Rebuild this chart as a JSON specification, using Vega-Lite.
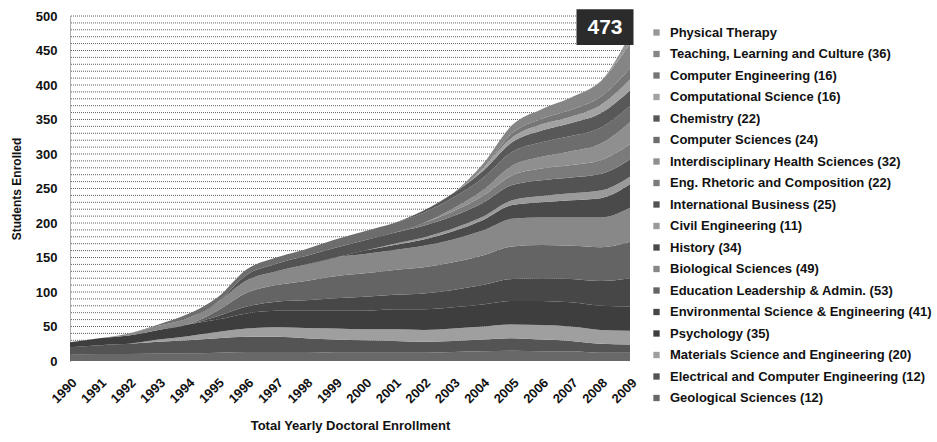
{
  "$schema": "https://vega.github.io/schema/vega-lite/v6.json",
  "width": 560,
  "height": 345,
  "padding": {"left": 10, "top": 9, "right": 4, "bottom": 2},
  "background": "#ffffff",
  "config": {
    "view": {"stroke": null},
    "font": "Liberation Sans",
    "axis": {"labelFont": "Liberation Sans", "titleFont": "Liberation Sans", "labelFontWeight": "bold", "titleFontWeight": "bold", "labelColor": "#111", "titleColor": "#111"}
  },
  "resolve": {"axis": {"x": "independent", "y": "independent"}},
  "datasets": {
    "programs": [
      {"p": "PT", "rank": 18, "program": "Physical Therapy"},
      {"p": "TLC", "rank": 17, "program": "Teaching, Learning and Culture (36)"},
      {"p": "CE2", "rank": 16, "program": "Computer Engineering (16)"},
      {"p": "CMP", "rank": 15, "program": "Computational Science (16)"},
      {"p": "CHEM", "rank": 14, "program": "Chemistry (22)"},
      {"p": "CS", "rank": 13, "program": "Computer Sciences (24)"},
      {"p": "IHS", "rank": 12, "program": "Interdisciplinary Health Sciences (32)"},
      {"p": "ERC", "rank": 11, "program": "Eng. Rhetoric and Composition (22)"},
      {"p": "IB", "rank": 10, "program": "International Business (25)"},
      {"p": "CE", "rank": 9, "program": "Civil Engineering (11)"},
      {"p": "HIS", "rank": 8, "program": "History (34)"},
      {"p": "BIO", "rank": 7, "program": "Biological Sciences (49)"},
      {"p": "EDL", "rank": 6, "program": "Education Leadership & Admin. (53)"},
      {"p": "ENV", "rank": 5, "program": "Environmental Science & Engineering (41)"},
      {"p": "PSY", "rank": 4, "program": "Psychology (35)"},
      {"p": "MSE", "rank": 3, "program": "Materials Science and Engineering (20)"},
      {"p": "ECE", "rank": 2, "program": "Electrical and Computer Engineering (12)"},
      {"p": "GS", "rank": 1, "program": "Geological Sciences (12)"}
    ],
    "enrollment": [
      {"yr":1990,"p":"GS","n":9},{"yr":1991,"p":"GS","n":10},{"yr":1992,"p":"GS","n":10},{"yr":1993,"p":"GS","n":11},{"yr":1994,"p":"GS","n":11},{"yr":1995,"p":"GS","n":12},{"yr":1996,"p":"GS","n":13},{"yr":1997,"p":"GS","n":13},{"yr":1998,"p":"GS","n":13},{"yr":1999,"p":"GS","n":12},{"yr":2000,"p":"GS","n":12},{"yr":2001,"p":"GS","n":12},{"yr":2002,"p":"GS","n":12},{"yr":2003,"p":"GS","n":13},{"yr":2004,"p":"GS","n":14},{"yr":2005,"p":"GS","n":15},{"yr":2006,"p":"GS","n":14},{"yr":2007,"p":"GS","n":14},{"yr":2008,"p":"GS","n":12},{"yr":2009,"p":"GS","n":12},
      {"yr":1990,"p":"ECE","n":11},{"yr":1991,"p":"ECE","n":13},{"yr":1992,"p":"ECE","n":15},{"yr":1993,"p":"ECE","n":17},{"yr":1994,"p":"ECE","n":19},{"yr":1995,"p":"ECE","n":21},{"yr":1996,"p":"ECE","n":22},{"yr":1997,"p":"ECE","n":22},{"yr":1998,"p":"ECE","n":20},{"yr":1999,"p":"ECE","n":19},{"yr":2000,"p":"ECE","n":18},{"yr":2001,"p":"ECE","n":17},{"yr":2002,"p":"ECE","n":16},{"yr":2003,"p":"ECE","n":16},{"yr":2004,"p":"ECE","n":17},{"yr":2005,"p":"ECE","n":18},{"yr":2006,"p":"ECE","n":17},{"yr":2007,"p":"ECE","n":15},{"yr":2008,"p":"ECE","n":13},{"yr":2009,"p":"ECE","n":12},
      {"yr":1990,"p":"MSE","n":0},{"yr":1991,"p":"MSE","n":0},{"yr":1992,"p":"MSE","n":0},{"yr":1993,"p":"MSE","n":3},{"yr":1994,"p":"MSE","n":6},{"yr":1995,"p":"MSE","n":9},{"yr":1996,"p":"MSE","n":12},{"yr":1997,"p":"MSE","n":14},{"yr":1998,"p":"MSE","n":15},{"yr":1999,"p":"MSE","n":16},{"yr":2000,"p":"MSE","n":16},{"yr":2001,"p":"MSE","n":17},{"yr":2002,"p":"MSE","n":17},{"yr":2003,"p":"MSE","n":18},{"yr":2004,"p":"MSE","n":19},{"yr":2005,"p":"MSE","n":20},{"yr":2006,"p":"MSE","n":21},{"yr":2007,"p":"MSE","n":21},{"yr":2008,"p":"MSE","n":20},{"yr":2009,"p":"MSE","n":20},
      {"yr":1990,"p":"PSY","n":7},{"yr":1991,"p":"PSY","n":10},{"yr":1992,"p":"PSY","n":12},{"yr":1993,"p":"PSY","n":14},{"yr":1994,"p":"PSY","n":17},{"yr":1995,"p":"PSY","n":18},{"yr":1996,"p":"PSY","n":22},{"yr":1997,"p":"PSY","n":24},{"yr":1998,"p":"PSY","n":25},{"yr":1999,"p":"PSY","n":26},{"yr":2000,"p":"PSY","n":27},{"yr":2001,"p":"PSY","n":29},{"yr":2002,"p":"PSY","n":30},{"yr":2003,"p":"PSY","n":31},{"yr":2004,"p":"PSY","n":32},{"yr":2005,"p":"PSY","n":34},{"yr":2006,"p":"PSY","n":35},{"yr":2007,"p":"PSY","n":35},{"yr":2008,"p":"PSY","n":35},{"yr":2009,"p":"PSY","n":35},
      {"yr":1990,"p":"ENV","n":0},{"yr":1991,"p":"ENV","n":0},{"yr":1992,"p":"ENV","n":0},{"yr":1993,"p":"ENV","n":0},{"yr":1994,"p":"ENV","n":0},{"yr":1995,"p":"ENV","n":5},{"yr":1996,"p":"ENV","n":10},{"yr":1997,"p":"ENV","n":13},{"yr":1998,"p":"ENV","n":15},{"yr":1999,"p":"ENV","n":18},{"yr":2000,"p":"ENV","n":20},{"yr":2001,"p":"ENV","n":21},{"yr":2002,"p":"ENV","n":23},{"yr":2003,"p":"ENV","n":25},{"yr":2004,"p":"ENV","n":28},{"yr":2005,"p":"ENV","n":32},{"yr":2006,"p":"ENV","n":33},{"yr":2007,"p":"ENV","n":34},{"yr":2008,"p":"ENV","n":36},{"yr":2009,"p":"ENV","n":41},
      {"yr":1990,"p":"EDL","n":0},{"yr":1991,"p":"EDL","n":0},{"yr":1992,"p":"EDL","n":0},{"yr":1993,"p":"EDL","n":0},{"yr":1994,"p":"EDL","n":0},{"yr":1995,"p":"EDL","n":8},{"yr":1996,"p":"EDL","n":20},{"yr":1997,"p":"EDL","n":24},{"yr":1998,"p":"EDL","n":28},{"yr":1999,"p":"EDL","n":32},{"yr":2000,"p":"EDL","n":34},{"yr":2001,"p":"EDL","n":36},{"yr":2002,"p":"EDL","n":38},{"yr":2003,"p":"EDL","n":40},{"yr":2004,"p":"EDL","n":43},{"yr":2005,"p":"EDL","n":47},{"yr":2006,"p":"EDL","n":48},{"yr":2007,"p":"EDL","n":48},{"yr":2008,"p":"EDL","n":49},{"yr":2009,"p":"EDL","n":53},
      {"yr":1990,"p":"BIO","n":0},{"yr":1991,"p":"BIO","n":0},{"yr":1992,"p":"BIO","n":3},{"yr":1993,"p":"BIO","n":6},{"yr":1994,"p":"BIO","n":9},{"yr":1995,"p":"BIO","n":12},{"yr":1996,"p":"BIO","n":18},{"yr":1997,"p":"BIO","n":20},{"yr":1998,"p":"BIO","n":24},{"yr":1999,"p":"BIO","n":27},{"yr":2000,"p":"BIO","n":28},{"yr":2001,"p":"BIO","n":29},{"yr":2002,"p":"BIO","n":31},{"yr":2003,"p":"BIO","n":33},{"yr":2004,"p":"BIO","n":36},{"yr":2005,"p":"BIO","n":40},{"yr":2006,"p":"BIO","n":40},{"yr":2007,"p":"BIO","n":41},{"yr":2008,"p":"BIO","n":43},{"yr":2009,"p":"BIO","n":49},
      {"yr":1990,"p":"HIS","n":0},{"yr":1991,"p":"HIS","n":0},{"yr":1992,"p":"HIS","n":0},{"yr":1993,"p":"HIS","n":0},{"yr":1994,"p":"HIS","n":0},{"yr":1995,"p":"HIS","n":0},{"yr":1996,"p":"HIS","n":0},{"yr":1997,"p":"HIS","n":0},{"yr":1998,"p":"HIS","n":0},{"yr":1999,"p":"HIS","n":0},{"yr":2000,"p":"HIS","n":5},{"yr":2001,"p":"HIS","n":7},{"yr":2002,"p":"HIS","n":9},{"yr":2003,"p":"HIS","n":12},{"yr":2004,"p":"HIS","n":15},{"yr":2005,"p":"HIS","n":20},{"yr":2006,"p":"HIS","n":22},{"yr":2007,"p":"HIS","n":25},{"yr":2008,"p":"HIS","n":28},{"yr":2009,"p":"HIS","n":34},
      {"yr":1990,"p":"CE","n":0},{"yr":1991,"p":"CE","n":0},{"yr":1992,"p":"CE","n":0},{"yr":1993,"p":"CE","n":0},{"yr":1994,"p":"CE","n":0},{"yr":1995,"p":"CE","n":0},{"yr":1996,"p":"CE","n":0},{"yr":1997,"p":"CE","n":0},{"yr":1998,"p":"CE","n":0},{"yr":1999,"p":"CE","n":0},{"yr":2000,"p":"CE","n":0},{"yr":2001,"p":"CE","n":2},{"yr":2002,"p":"CE","n":3},{"yr":2003,"p":"CE","n":4},{"yr":2004,"p":"CE","n":5},{"yr":2005,"p":"CE","n":7},{"yr":2006,"p":"CE","n":9},{"yr":2007,"p":"CE","n":10},{"yr":2008,"p":"CE","n":11},{"yr":2009,"p":"CE","n":11},
      {"yr":1990,"p":"IB","n":0},{"yr":1991,"p":"IB","n":0},{"yr":1992,"p":"IB","n":0},{"yr":1993,"p":"IB","n":0},{"yr":1994,"p":"IB","n":0},{"yr":1995,"p":"IB","n":0},{"yr":1996,"p":"IB","n":8},{"yr":1997,"p":"IB","n":11},{"yr":1998,"p":"IB","n":12},{"yr":1999,"p":"IB","n":14},{"yr":2000,"p":"IB","n":15},{"yr":2001,"p":"IB","n":16},{"yr":2002,"p":"IB","n":17},{"yr":2003,"p":"IB","n":18},{"yr":2004,"p":"IB","n":20},{"yr":2005,"p":"IB","n":22},{"yr":2006,"p":"IB","n":23},{"yr":2007,"p":"IB","n":23},{"yr":2008,"p":"IB","n":24},{"yr":2009,"p":"IB","n":25},
      {"yr":1990,"p":"ERC","n":0},{"yr":1991,"p":"ERC","n":0},{"yr":1992,"p":"ERC","n":0},{"yr":1993,"p":"ERC","n":0},{"yr":1994,"p":"ERC","n":0},{"yr":1995,"p":"ERC","n":0},{"yr":1996,"p":"ERC","n":0},{"yr":1997,"p":"ERC","n":0},{"yr":1998,"p":"ERC","n":0},{"yr":1999,"p":"ERC","n":0},{"yr":2000,"p":"ERC","n":0},{"yr":2001,"p":"ERC","n":0},{"yr":2002,"p":"ERC","n":4},{"yr":2003,"p":"ERC","n":7},{"yr":2004,"p":"ERC","n":10},{"yr":2005,"p":"ERC","n":14},{"yr":2006,"p":"ERC","n":17},{"yr":2007,"p":"ERC","n":18},{"yr":2008,"p":"ERC","n":20},{"yr":2009,"p":"ERC","n":22},
      {"yr":1990,"p":"IHS","n":0},{"yr":1991,"p":"IHS","n":0},{"yr":1992,"p":"IHS","n":0},{"yr":1993,"p":"IHS","n":0},{"yr":1994,"p":"IHS","n":0},{"yr":1995,"p":"IHS","n":0},{"yr":1996,"p":"IHS","n":0},{"yr":1997,"p":"IHS","n":0},{"yr":1998,"p":"IHS","n":0},{"yr":1999,"p":"IHS","n":0},{"yr":2000,"p":"IHS","n":0},{"yr":2001,"p":"IHS","n":0},{"yr":2002,"p":"IHS","n":0},{"yr":2003,"p":"IHS","n":4},{"yr":2004,"p":"IHS","n":8},{"yr":2005,"p":"IHS","n":14},{"yr":2006,"p":"IHS","n":17},{"yr":2007,"p":"IHS","n":20},{"yr":2008,"p":"IHS","n":24},{"yr":2009,"p":"IHS","n":32},
      {"yr":1990,"p":"CS","n":0},{"yr":1991,"p":"CS","n":0},{"yr":1992,"p":"CS","n":0},{"yr":1993,"p":"CS","n":2},{"yr":1994,"p":"CS","n":6},{"yr":1995,"p":"CS","n":7},{"yr":1996,"p":"CS","n":8},{"yr":1997,"p":"CS","n":9},{"yr":1998,"p":"CS","n":10},{"yr":1999,"p":"CS","n":12},{"yr":2000,"p":"CS","n":13},{"yr":2001,"p":"CS","n":14},{"yr":2002,"p":"CS","n":15},{"yr":2003,"p":"CS","n":16},{"yr":2004,"p":"CS","n":18},{"yr":2005,"p":"CS","n":20},{"yr":2006,"p":"CS","n":21},{"yr":2007,"p":"CS","n":22},{"yr":2008,"p":"CS","n":23},{"yr":2009,"p":"CS","n":24},
      {"yr":1990,"p":"CHEM","n":0},{"yr":1991,"p":"CHEM","n":0},{"yr":1992,"p":"CHEM","n":0},{"yr":1993,"p":"CHEM","n":0},{"yr":1994,"p":"CHEM","n":0},{"yr":1995,"p":"CHEM","n":0},{"yr":1996,"p":"CHEM","n":0},{"yr":1997,"p":"CHEM","n":0},{"yr":1998,"p":"CHEM","n":0},{"yr":1999,"p":"CHEM","n":0},{"yr":2000,"p":"CHEM","n":0},{"yr":2001,"p":"CHEM","n":0},{"yr":2002,"p":"CHEM","n":3},{"yr":2003,"p":"CHEM","n":6},{"yr":2004,"p":"CHEM","n":10},{"yr":2005,"p":"CHEM","n":14},{"yr":2006,"p":"CHEM","n":17},{"yr":2007,"p":"CHEM","n":19},{"yr":2008,"p":"CHEM","n":21},{"yr":2009,"p":"CHEM","n":22},
      {"yr":1990,"p":"CMP","n":0},{"yr":1991,"p":"CMP","n":0},{"yr":1992,"p":"CMP","n":0},{"yr":1993,"p":"CMP","n":0},{"yr":1994,"p":"CMP","n":0},{"yr":1995,"p":"CMP","n":0},{"yr":1996,"p":"CMP","n":0},{"yr":1997,"p":"CMP","n":0},{"yr":1998,"p":"CMP","n":0},{"yr":1999,"p":"CMP","n":0},{"yr":2000,"p":"CMP","n":0},{"yr":2001,"p":"CMP","n":0},{"yr":2002,"p":"CMP","n":0},{"yr":2003,"p":"CMP","n":0},{"yr":2004,"p":"CMP","n":4},{"yr":2005,"p":"CMP","n":7},{"yr":2006,"p":"CMP","n":9},{"yr":2007,"p":"CMP","n":9},{"yr":2008,"p":"CMP","n":12},{"yr":2009,"p":"CMP","n":16},
      {"yr":1990,"p":"CE2","n":0},{"yr":1991,"p":"CE2","n":0},{"yr":1992,"p":"CE2","n":0},{"yr":1993,"p":"CE2","n":0},{"yr":1994,"p":"CE2","n":0},{"yr":1995,"p":"CE2","n":0},{"yr":1996,"p":"CE2","n":0},{"yr":1997,"p":"CE2","n":0},{"yr":1998,"p":"CE2","n":0},{"yr":1999,"p":"CE2","n":0},{"yr":2000,"p":"CE2","n":0},{"yr":2001,"p":"CE2","n":0},{"yr":2002,"p":"CE2","n":0},{"yr":2003,"p":"CE2","n":0},{"yr":2004,"p":"CE2","n":0},{"yr":2005,"p":"CE2","n":6},{"yr":2006,"p":"CE2","n":8},{"yr":2007,"p":"CE2","n":10},{"yr":2008,"p":"CE2","n":12},{"yr":2009,"p":"CE2","n":16},
      {"yr":1990,"p":"TLC","n":0},{"yr":1991,"p":"TLC","n":0},{"yr":1992,"p":"TLC","n":0},{"yr":1993,"p":"TLC","n":0},{"yr":1994,"p":"TLC","n":0},{"yr":1995,"p":"TLC","n":0},{"yr":1996,"p":"TLC","n":0},{"yr":1997,"p":"TLC","n":0},{"yr":1998,"p":"TLC","n":0},{"yr":1999,"p":"TLC","n":0},{"yr":2000,"p":"TLC","n":0},{"yr":2001,"p":"TLC","n":0},{"yr":2002,"p":"TLC","n":0},{"yr":2003,"p":"TLC","n":0},{"yr":2004,"p":"TLC","n":6},{"yr":2005,"p":"TLC","n":12},{"yr":2006,"p":"TLC","n":14},{"yr":2007,"p":"TLC","n":18},{"yr":2008,"p":"TLC","n":22},{"yr":2009,"p":"TLC","n":36},
      {"yr":1990,"p":"PT","n":0},{"yr":1991,"p":"PT","n":0},{"yr":1992,"p":"PT","n":0},{"yr":1993,"p":"PT","n":0},{"yr":1994,"p":"PT","n":0},{"yr":1995,"p":"PT","n":0},{"yr":1996,"p":"PT","n":0},{"yr":1997,"p":"PT","n":0},{"yr":1998,"p":"PT","n":0},{"yr":1999,"p":"PT","n":0},{"yr":2000,"p":"PT","n":0},{"yr":2001,"p":"PT","n":0},{"yr":2002,"p":"PT","n":0},{"yr":2003,"p":"PT","n":0},{"yr":2004,"p":"PT","n":0},{"yr":2005,"p":"PT","n":0},{"yr":2006,"p":"PT","n":0},{"yr":2007,"p":"PT","n":0},{"yr":2008,"p":"PT","n":0},{"yr":2009,"p":"PT","n":13}
    ],
    "gridlines": [
      {"v":10},{"v":20},{"v":30},{"v":40},{"v":50},{"v":60},{"v":70},{"v":80},{"v":90},{"v":100},
      {"v":110},{"v":120},{"v":130},{"v":140},{"v":150},{"v":160},{"v":170},{"v":180},{"v":190},{"v":200},
      {"v":210},{"v":220},{"v":230},{"v":240},{"v":250},{"v":260},{"v":270},{"v":280},{"v":290},{"v":300},
      {"v":310},{"v":320},{"v":330},{"v":340},{"v":350},{"v":360},{"v":370},{"v":380},{"v":390},{"v":400},
      {"v":410},{"v":420},{"v":430},{"v":440},{"v":450},{"v":460},{"v":470},{"v":480},{"v":490},{"v":500}
    ],
    "total": [{"yr": 2009, "n": 473, "label": "473"}]
  },
  "layer": [
    {
      "data": {"name": "gridlines"},
      "mark": {"type": "rule", "color": "#5e5e5e", "strokeDash": [1, 1], "strokeWidth": 1},
      "encoding": {
        "y": {"field": "v", "type": "quantitative", "axis": null}
      }
    },
    {
      "data": {"name": "enrollment"},
      "transform": [
        {"lookup": "p", "from": {"data": {"name": "programs"}, "key": "p", "fields": ["program", "rank"]}}
      ],
      "mark": {"type": "area", "interpolate": "monotone"},
      "encoding": {
        "x": {
          "field": "yr", "type": "quantitative",
          "scale": {"domain": [1990, 2009], "nice": false, "zero": false},
          "axis": {
            "orient": "bottom",
            "values": [1990,1991,1992,1993,1994,1995,1996,1997,1998,1999,2000,2001,2002,2003,2004,2005,2006,2007,2008,2009],
            "format": "d", "labelAngle": -45, "labelFontSize": 13, "labelPadding": 15, "labelOverlap": false,
            "grid": false, "ticks": false, "domain": false,
            "title": "Total Yearly Doctoral Enrollment", "titleFontSize": 13, "titlePadding": 14
          }
        },
        "y": {
          "field": "n", "type": "quantitative", "stack": "zero",
          "scale": {"domain": [0, 500], "nice": false},
          "axis": {
            "orient": "left",
            "values": [0,50,100,150,200,250,300,350,400,450,500],
            "labelOverlap": false, "labelFontSize": 13, "labelPadding": 13,
            "ticks": false, "grid": false,
            "domain": true, "domainColor": "#5e5e5e", "domainDash": [1, 1],
            "title": "Students Enrolled", "titleFontSize": 12, "titlePadding": 12
          }
        },
        "order": {"field": "rank", "type": "quantitative", "sort": "ascending"},
        "color": {
          "field": "program", "type": "nominal",
          "scale": {
            "domain": ["Physical Therapy", "Teaching, Learning and Culture (36)", "Computer Engineering (16)", "Computational Science (16)", "Chemistry (22)", "Computer Sciences (24)", "Interdisciplinary Health Sciences (32)", "Eng. Rhetoric and Composition (22)", "International Business (25)", "Civil Engineering (11)", "History (34)", "Biological Sciences (49)", "Education Leadership & Admin. (53)", "Environmental Science & Engineering (41)", "Psychology (35)", "Materials Science and Engineering (20)", "Electrical and Computer Engineering (12)", "Geological Sciences (12)"],
            "range": ["#979797", "#858585", "#767676", "#a2a2a2", "#585858", "#6d6d6d", "#8f8f8f", "#7b7b7b", "#535353", "#9a9a9a", "#4a4a4a", "#888888", "#646464", "#474747", "#3e3e3e", "#9f9f9f", "#545454", "#686868"]
          },
          "legend": {
            "title": null, "orient": "none", "legendX": 580, "legendY": 10,
            "symbolType": "square", "symbolSize": 40, "symbolStrokeWidth": 0,
            "labelFont": "Liberation Sans", "labelFontWeight": "bold", "labelFontSize": 13, "labelColor": "#111",
            "labelLimit": 400, "labelOffset": 7, "rowPadding": 7.5
          }
        }
      }
    },
    {
      "data": {"name": "total"},
      "mark": {"type": "point", "shape": "M-1,-0.63L1,-0.63L1,0.63L-1,0.63Z", "filled": true, "color": "#2b2b2b", "opacity": 1, "size": 3249, "xOffset": -25, "yOffset": -7.5},
      "encoding": {
        "x": {"field": "yr", "type": "quantitative", "axis": null},
        "y": {"field": "n", "type": "quantitative", "axis": null}
      }
    },
    {
      "data": {"name": "total"},
      "mark": {"type": "text", "color": "#ffffff", "font": "Liberation Sans", "fontWeight": "bold", "fontSize": 21, "align": "center", "baseline": "middle", "dx": -25, "dy": -7},
      "encoding": {
        "x": {"field": "yr", "type": "quantitative", "axis": null},
        "y": {"field": "n", "type": "quantitative", "axis": null},
        "text": {"field": "label", "type": "nominal"}
      }
    }
  ]
}
